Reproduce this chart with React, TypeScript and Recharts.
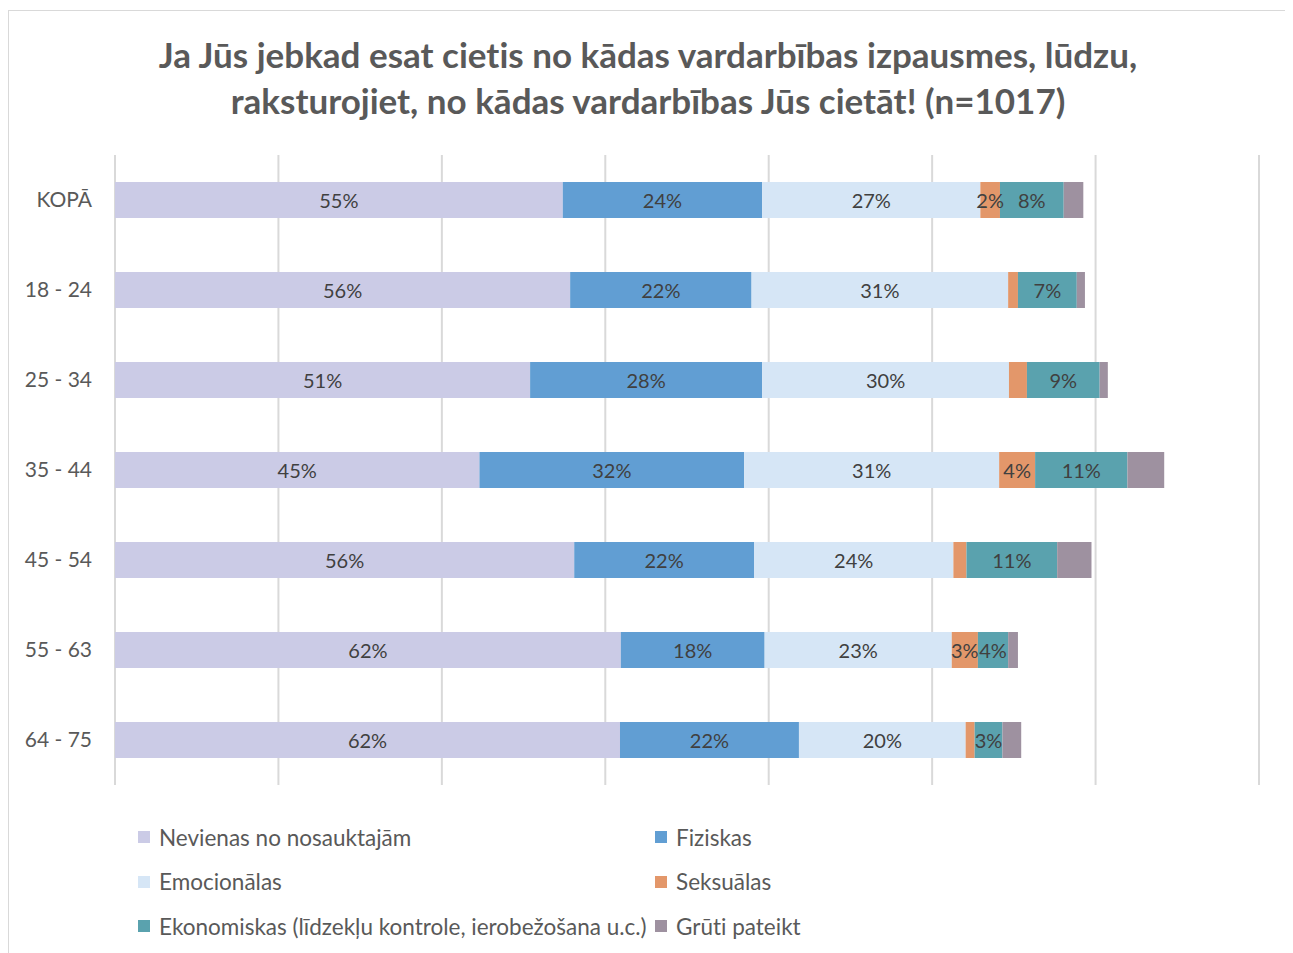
import React from 'react';
import { BarChart, Bar, XAxis, YAxis, CartesianGrid, LabelList, Legend } from 'recharts';

const categories = ['KOPĀ', '18 - 24', '25 - 34', '35 - 44', '45 - 54', '55 - 63', '64 - 75'];
const nevienas = [54.8, 55.7, 50.8, 44.6, 56.2, 61.9, 61.8];
const fiziskas = [24.4, 22.2, 28.4, 32.4, 22.0, 17.6, 21.9];
const emocionalas = [26.7, 31.4, 30.2, 31.2, 24.4, 22.9, 20.4];
const seksualas = [2.4, 1.2, 2.2, 4.4, 1.6, 3.2, 1.1];
const ekonomiskas = [7.8, 7.2, 8.9, 11.3, 11.1, 3.7, 3.4];
const gruti = [2.4, 1.0, 1.0, 4.5, 4.2, 1.2, 2.3];
const seksualasLabelShown = [true, false, false, true, false, true, false];
const xTicks = [0, 20, 40, 60, 80, 100, 120, 140];

const seriesNames = [
  'Nevienas no nosauktajām',
  'Fiziskas',
  'Emocionālas',
  'Seksuālas',
  'Ekonomiskas (līdzekļu kontrole, ierobežošana u.c.)',
  'Grūti pateikt',
];
const seriesKeys = ['nevienas', 'fiziskas', 'emocionalas', 'seksualas', 'ekonomiskas', 'gruti'];
const seriesColors = ['#CBCBE6', '#619ED3', '#D6E6F6', '#E3976A', '#5AA2AE', '#9E91A0'];

const data = categories.map((c, i) => ({
  cat: c,
  nevienas: nevienas[i],
  fiziskas: fiziskas[i],
  emocionalas: emocionalas[i],
  seksualas: seksualas[i],
  ekonomiskas: ekonomiskas[i],
  gruti: gruti[i],
}));

const FONT = 'Lato, "Open Sans", sans-serif';
const TEXT = '#595959';

const makeLabel = (shown?: boolean[]) => (props: any) => {
  const { x, y, width, height, value, index } = props;
  if (shown && !shown[index]) return null;
  return (
    <text
      x={Number(x) + Number(width) / 2}
      y={Number(y) + Number(height) / 2}
      textAnchor="middle"
      dominantBaseline="central"
      fill="#404040"
      fontSize={20}
      fontFamily={FONT}
      style={{ fontVariantLigatures: 'none' }}
    >
      {Math.round(Number(value))}%
    </text>
  );
};

const LegendContent = () => (
  <div
    style={{
      display: 'grid',
      gridTemplateColumns: '517px 517px',
      fontFamily: FONT,
      fontSize: 22.5,
      color: TEXT,
      fontVariantLigatures: 'none',
    }}
  >
    {seriesNames.map((n, i) => (
      <div key={n} style={{ display: 'flex', alignItems: 'center', height: 44.5, whiteSpace: 'nowrap' }}>
        <span style={{ width: 12, height: 12, background: seriesColors[i], marginRight: 9, display: 'inline-block', flex: 'none' }} />
        <span>{n}</span>
      </div>
    ))}
  </div>
);

export default function App() {
  return (
    <div
      style={{
        position: 'relative',
        width: 1280,
        height: 960,
        marginTop: 2,
        border: '1px solid #d9d9d9',
        boxSizing: 'border-box',
        background: '#fff',
        fontVariantLigatures: 'none',
      }}
    >
      <div
        style={{
          position: 'absolute',
          top: 20,
          left: 0,
          width: 1278,
          textAlign: 'center',
          fontFamily: FONT,
          fontWeight: 700,
          fontSize: 35,
          lineHeight: '46px',
          color: TEXT,
          fontVariantLigatures: 'none',
        }}
      >
        Ja Jūs jebkad esat cietis no kādas vardarbības izpausmes, lūdzu,
        <br />
        raksturojiet, no kādas vardarbības Jūs cietāt! (n=1017)
      </div>
      <div style={{ position: 'absolute', left: 0, top: 0 }}>
        <BarChart
          width={1278}
          height={940}
          data={data}
          layout="vertical"
          margin={{ top: 144, right: 28, bottom: 166, left: 0 }}
          barSize={36}
        >
          <CartesianGrid horizontal={false} stroke="#d9d9d9" strokeWidth={2} />
          <XAxis type="number" domain={[0, 140]} ticks={xTicks} hide />
          <YAxis
            type="category"
            dataKey="cat"
            width={106}
            axisLine={false}
            tickLine={false}
            tickSize={0}
            tickMargin={23}
            tick={{ fill: TEXT, fontSize: 21, fontFamily: FONT }}
          />
          {seriesKeys.map((k, i) => (
            <Bar key={k} dataKey={k} name={seriesNames[i]} stackId="a" fill={seriesColors[i]} isAnimationActive={false}>
              {k !== 'gruti' && (
                <LabelList dataKey={k} content={makeLabel(k === 'seksualas' ? seksualasLabelShown : undefined)} />
              )}
            </Bar>
          ))}
          <Legend
            layout="vertical"
            align="center"
            verticalAlign="middle"
            content={() => <LegendContent />}
            wrapperStyle={{ left: 129, top: 804, width: 1034 }}
          />
        </BarChart>
      </div>
    </div>
  );
}
